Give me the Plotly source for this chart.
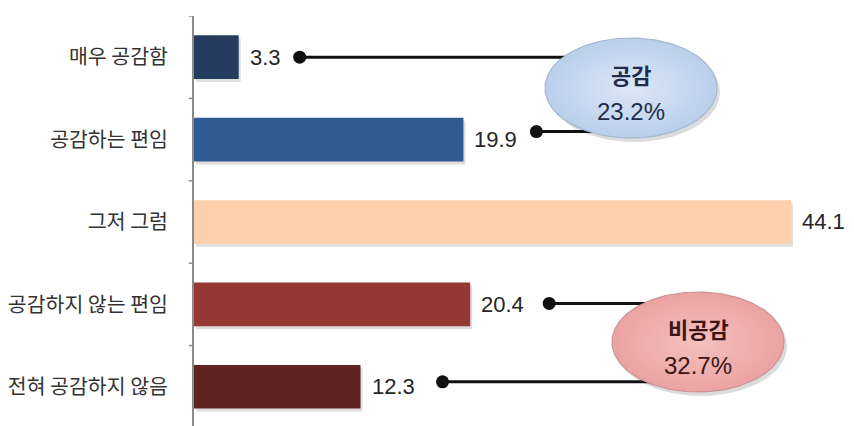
import numpy as np
import plotly.graph_objects as go

# ---------------- data ----------------
categories = ["매우 공감함", "공감하는 편임", "그저 그럼", "공감하지 않는 편임", "전혀 공감하지 않음"]
values = [3.3, 19.9, 44.1, 20.4, 12.3]
group_names = ["공감", "비공감"]
group_values = [23.2, 32.7]
group_members = [[0, 1], [3, 4]]

# ---------------- style ----------------
bar_colors = ["#243D5E", "#2F5B92", "#FBD0AA", "#953735", "#602422"]
W, H = 854, 426
ML, MR, MT, MB = 194, 0, 16, 0
X_MAX = 48.75
Y_RANGE = [4.476, -0.5]
px_x = (W - ML - MR) / X_MAX
px_y = (H - MT - MB) / (Y_RANGE[0] - Y_RANGE[1])
BAR_W = 0.53

# connector dots: px gap after bar end and px vertical shift (per member)
dot_gap_px = {0: 61, 1: 73, 3: 79, 4: 82}
dot_dy_px = {0: 0, 1: -8, 3: -1, 4: -5}
# ellipse centres (px) and radii (px)
ell_center_px = [(631, 88), (698, 342)]
ell_r_px = (86, 50)
ell_fill = [("#DDE7F6", "#BACFEB"), ("#F5C0BF", "#EAA3A2")]
ell_line = ["#A3B7D3", "#CB9392"]
ell_text = ["#1F2D4A", "#3A1616"]

def to_dx(px):
    return px / px_x

def to_dy(px):
    return px / px_y

def px_to_data(xp, yp):
    return (xp - ML) / px_x, Y_RANGE[1] + (yp - MT) / px_y

fig = go.Figure()

# bar shadow
fig.add_trace(go.Bar(
    x=values, y=list(range(len(categories))), orientation="h",
    base=to_dx(2), width=BAR_W, offset=-BAR_W / 2 + to_dy(3),
    marker=dict(color="rgba(0,0,0,0.13)", line=dict(width=0)),
    hoverinfo="skip", showlegend=False,
))
# bars
fig.add_trace(go.Bar(
    x=values, y=list(range(len(categories))), orientation="h",
    width=BAR_W, offset=-BAR_W / 2,
    marker=dict(color=bar_colors, line=dict(width=0)),
    hoverinfo="skip", showlegend=False,
))

# connector lines
for g, members in enumerate(group_members):
    cx, cy = px_to_data(*ell_center_px[g])
    for m in members:
        x0 = values[m] + to_dx(dot_gap_px[m])
        y0 = m + to_dy(dot_dy_px[m])
        fig.add_trace(go.Scatter(
            x=[x0, cx], y=[y0, y0], mode="lines",
            line=dict(color="#111111", width=3),
            hoverinfo="skip", showlegend=False,
        ))
        fig.add_trace(go.Scatter(
            x=[x0], y=[y0], mode="markers",
            marker=dict(color="#111111", size=13),
            hoverinfo="skip", showlegend=False,
        ))

# ellipses
t = np.linspace(0, 2 * np.pi, 181)
for g in range(len(group_names)):
    cx, cy = px_to_data(*ell_center_px[g])
    rx, ry = ell_r_px
    # shadow
    fig.add_trace(go.Scatter(
        x=cx + to_dx(3) + to_dx(rx) * np.cos(t),
        y=cy + to_dy(4) + to_dy(ry) * np.sin(t),
        mode="lines", fill="toself", fillcolor="rgba(0,0,0,0.14)",
        line=dict(width=0), hoverinfo="skip", showlegend=False,
    ))
    fig.add_trace(go.Scatter(
        x=cx + to_dx(rx) * np.cos(t),
        y=cy + to_dy(ry) * np.sin(t),
        mode="lines", fill="toself",
        fillgradient=dict(type="radial",
                          colorscale=[[0, ell_fill[g][0]], [1, ell_fill[g][1]]]),
        line=dict(width=1.2, color=ell_line[g]),
        hoverinfo="skip", showlegend=False,
    ))
    fig.add_annotation(x=cx, y=cy, xref="x", yref="y", text="<b>" + group_names[g] + "</b>",
                       showarrow=False, yshift=14,
                       font=dict(family="Noto Sans CJK KR", size=22, color=ell_text[g]))
    fig.add_annotation(x=cx, y=cy, xref="x", yref="y", text=f"{group_values[g]:.1f}%",
                       showarrow=False, yshift=-23,
                       font=dict(family="Liberation Sans", size=24, color=ell_text[g]))

# value labels
for i, v in enumerate(values):
    fig.add_annotation(x=v, y=i, xref="x", yref="y", text=f"{v:.1f}",
                       showarrow=False, xanchor="left", xshift=9,
                       font=dict(family="Liberation Sans", size=22, color="#262626"))

fig.update_layout(
    width=W, height=H,
    margin=dict(l=ML, r=MR, t=MT, b=MB, pad=0),
    paper_bgcolor="white", plot_bgcolor="white",
    barmode="overlay",
    showlegend=False,
    xaxis=dict(range=[0, X_MAX], visible=False, fixedrange=True),
    yaxis=dict(
        range=Y_RANGE,
        tickmode="array",
        tickvals=list(range(len(categories))),
        ticktext=categories,
        showgrid=False, zeroline=False,
        showline=True, linecolor="#8A8A8A", linewidth=2,
        ticks="", ticklabelstandoff=20,
        tickfont=dict(family="Noto Sans CJK KR", size=20.5, color="#333333"),
    ),
)

# boundary tick marks on the y axis
for k in range(len(categories) + 1):
    yb = k - 0.5
    fig.add_shape(type="line", xref="paper", yref="y",
                  x0=-0.008, x1=0, y0=yb, y1=yb,
                  line=dict(color="#8A8A8A", width=1.5))

fig.write_html("out.html")
